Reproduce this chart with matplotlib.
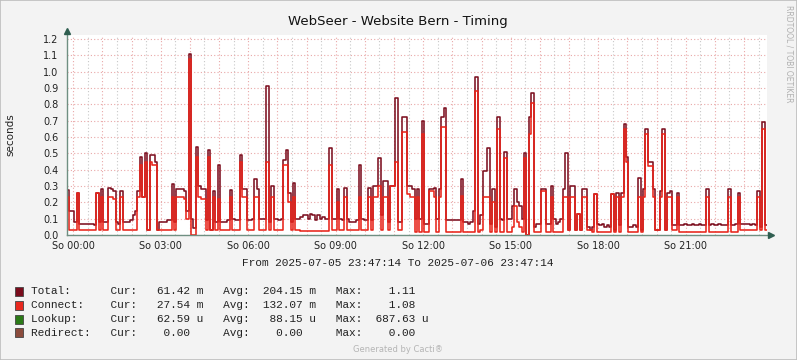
import matplotlib
matplotlib.use("Agg")
import matplotlib.pyplot as plt
import numpy as np
from matplotlib.lines import Line2D
from matplotlib.patches import Rectangle

# ---------------- data (5-minute samples, one row per hour) ----------------
total = [
    .275, .15, .15, .08, .26, .07, .07, .07, .07, .07, .065, .06,
    .26, .08, .28, .08, .08, .29, .28, .27, .08, .07, .27, .08,
    .08, .08, .09, .12, .15, .27, .48, .23, .50, .03, .49, .49,
    .45, .03, .08, .08, .08, .09, .09, .31, .08, .28, .28, .28,
    .27, .15, 1.11, .10, .04, .54, .30, .28, .28, .09, .52, .03,
    .27, .08, .43, .08, .08, .08, .09, .275, .10, .09, .09, .49,
    .28, .28, .09, .09, .10, .34, .28, .10, .10, .10, .91, .08,
    .30, .10, .10, .09, .10, .46, .52, .26, .08, .32, .10, .10,
    .11, .12, .12, .10, .13, .12, .09, .12, .10, .11, .10, .10,
    .53, .10, .10, .28, .10, .09, .29, .10, .08, .08, .08, .09,
    .43, .10, .09, .09, .29, .09, .30, .30, .47, .12, .33, .33,
    .08, .30, .30, .84, .08, .08, .72, .72, .30, .30, .28, .10,
    .28, .10, .70, .07, .07, .28, .28, .29, .10, .28, .72, .78,
    .09, .09, .09, .09, .09, .09, .34, .08, .08, .07, .08, .15,
    .97, .07, .12, .39, .39, .53, .07, .28, .05, .72, .10, .09,
    .51, .10, .10, .18, .28, .20, .18, .10, .50, .00, .72, .87,
    .05, .07, .07, .28, .28, .07, .07, .30, .10, .07, .08, .10,
    .28, .50, .03, .30, .30, .03, .13, .03, .28, .28, .05, .03,
    .05, .25, .07, .06, .07, .05, .06, .05, .25, .03, .26, .06,
    .26, .68, .48, .05, .05, .06, .05, .35, .03, .28, .65, .45,
    .45, .28, .03, .03, .27, .65, .03, .26, .27, .06, .06, .26,
    .06, .06, .065, .06, .06, .065, .06, .06, .065, .06, .06, .28,
    .06, .065, .06, .06, .065, .06, .06, .06, .28, .06, .06, .065,
    .26, .07, .065, .07, .065, .06, .065, .06, .27, .05, .69, .06,
]
connect = [
    .23, .03, .03, .03, .26, .03, .03, .03, .03, .03, .03, .03,
    .26, .03, .23, .03, .03, .23, .23, .22, .03, .03, .23, .03,
    .03, .03, .03, .03, .03, .23, .43, .23, .45, .03, .45, .43,
    .43, .03, .03, .03, .03, .03, .03, .23, .03, .23, .23, .23,
    .22, .10, 1.08, .00, .00, .48, .23, .22, .22, .03, .48, .03,
    .23, .03, .22, .03, .03, .03, .03, .23, .03, .03, .03, .45,
    .23, .23, .03, .03, .03, .23, .23, .03, .03, .03, .45, .03,
    .23, .03, .03, .03, .03, .43, .43, .20, .03, .23, .03, .03,
    .025, .025, .025, .025, .025, .025, .025, .025, .025, .025, .025, .025,
    .43, .03, .03, .20, .03, .03, .23, .03, .03, .03, .03, .03,
    .23, .03, .03, .03, .23, .03, .23, .23, .30, .03, .23, .23,
    .03, .30, .30, .45, .03, .03, .63, .63, .25, .23, .23, .02,
    .23, .02, .62, .02, .02, .27, .27, .23, .02, .23, .66, .66,
    .02, .02, .02, .02, .02, .02, .24, .02, .02, .02, .02, .02,
    .88, .02, .03, .23, .23, .23, .02, .20, .02, .65, .02, .02,
    .47, .02, .02, .05, .18, .08, .05, .02, .47, .00, .62, .81,
    .02, .02, .02, .27, .27, .02, .02, .23, .02, .02, .02, .02,
    .23, .23, .03, .23, .23, .03, .13, .03, .23, .23, .03, .03,
    .02, .25, .02, .02, .02, .02, .02, .02, .25, .02, .23, .02,
    .23, .65, .45, .02, .02, .02, .02, .23, .02, .23, .62, .42,
    .42, .23, .03, .03, .23, .62, .03, .23, .23, .03, .03, .23,
    .02, .02, .02, .02, .02, .02, .02, .02, .02, .02, .02, .23,
    .02, .02, .02, .02, .02, .02, .02, .02, .23, .02, .02, .02,
    .23, .03, .03, .03, .03, .03, .03, .03, .23, .03, .65, .03,
]
step_minutes = 5
first_label_offset_h = 12.77 / 60.0          # 23:47:14 -> 00:00
x_labels = ["So 00:00", "So 03:00", "So 06:00", "So 09:00",
            "So 12:00", "So 15:00", "So 18:00", "So 21:00"]
y_ticks = [round(0.1 * k, 1) for k in range(13)]

legend_names = ["Total:", "Connect:", "Lookup:", "Redirect:"]
legend_colors = ["#7A0C1C", "#E8281E", "#2B7A17", "#8B4B3C"]
legend_cur = [("61.42", "m"), ("27.54", "m"), ("62.59", "u"), ("0.00", " ")]
legend_avg = [("204.15", "m"), ("132.07", "m"), ("88.15", "u"), ("0.00", " ")]
legend_max = [("1.11", " "), ("1.08", " "), ("687.63", "u"), ("0.00", " ")]

TOTAL_COLOR = "#7D1020"
CONNECT_COLOR = "#E8241A"
MONO = ["Liberation Mono", "DejaVu Sans Mono"]

# ---------------- figure ----------------
W, H = 797, 360
fig = plt.figure(figsize=(W / 100, H / 100), dpi=100, facecolor="#F3F3F3")
ax = fig.add_axes([67 / W, 125 / H, 700 / W, 200 / H])
ax.set_facecolor("white")

t = np.arange(len(total)) * step_minutes / 60.0
tx = np.append(t, 24.0)
ax.step(tx, np.append(total, total[-1]), where="post", color=TOTAL_COLOR,
        lw=1.15, zorder=3)
ax.step(tx, np.append(connect, connect[-1]), where="post", color=CONNECT_COLOR,
        lw=1.15, zorder=4)

ax.set_xlim(0, 24)
ax.set_ylim(0, 1.2245)

hour_ticks = [first_label_offset_h + k for k in range(24)]
half_ticks = [first_label_offset_h + k + 0.5 for k in range(24)]
hour_labels = []
for k in range(24):
    hour_labels.append(x_labels[k // 3] if k % 3 == 0 else "")
ax.set_xticks(hour_ticks)
ax.set_xticklabels(hour_labels)
ax.set_xticks(half_ticks, minor=True)
ax.set_yticks(y_ticks)
ax.set_yticklabels([f"{v:.1f}" for v in y_ticks])

ax.grid(True, which="major", color="#E9A8A8", linestyle=(0, (1, 2)), lw=0.8)
ax.grid(True, which="minor", axis="x", color="#C8C8C8", linestyle=(0, (1, 2)), lw=0.8)
ax.set_axisbelow(True)

ax.tick_params(axis="both", which="both", length=0, labelsize=7, colors="#222222", pad=4)
ax.tick_params(axis="y", pad=6)
for s in ax.spines.values():
    s.set_visible(False)

def fx(px):
    return px / W
def fy(py):
    return 1 - py / H

axis_col = "#6F8F82"
fig.add_artist(Line2D([fx(67), fx(67)], [fy(235), fy(31)], color=axis_col, lw=1.0))
fig.add_artist(Line2D([fx(67), fx(770)], [fy(235), fy(235)], color=axis_col, lw=1.0))
fig.add_artist(Line2D([fx(67)], [fy(31)], marker="^", color="#2F5E50", markersize=4, lw=0))
fig.add_artist(Line2D([fx(771)], [fy(235)], marker=">", color="#2F5E50", markersize=4, lw=0))

fig.text(fx(398), fy(22), "WebSeer - Website Bern - Timing", ha="center", va="center",
         fontsize=9.5, color="#111111")
fig.text(fx(10), fy(135), "seconds", rotation=90, ha="center", va="center",
         fontsize=7.5, color="#222222")
fig.text(fx(789), fy(5), "RRDTOOL / TOBI OETIKER", rotation=270, ha="center", va="top",
         fontsize=5.5, color="#B0B0B0")
fig.text(fx(398), fy(263), "From 2025-07-05 23:47:14 To 2025-07-06 23:47:14",
         ha="center", va="center", fontsize=8, family=MONO, color="#222222")

rows_y = [291.5, 305.2, 319.0, 332.7]
for i in range(4):
    line = (f"{legend_names[i]:<12}Cur:{legend_cur[i][0]:>8} {legend_cur[i][1]}   "
            f"Avg:{legend_avg[i][0]:>8} {legend_avg[i][1]}   "
            f"Max:{legend_max[i][0]:>8} {legend_max[i][1]}")
    fig.text(fx(30.5), fy(rows_y[i]), line, ha="left", va="center", fontsize=8,
             family=MONO, color="#222222")
    fig.add_artist(Rectangle((fx(15), fy(rows_y[i] + 4.5)), 8 / W, 9 / H,
                             facecolor=legend_colors[i], edgecolor="#444444", lw=0.6))

fig.text(fx(398), fy(349), "Generated by Cacti®", ha="center", va="center",
         fontsize=6, color="#B5B5B5")

fig.add_artist(Rectangle((0, 0), 1, 1, fill=False, edgecolor="#BDBDBD", lw=1.2,
                         transform=fig.transFigure))

fig.savefig("out.png", dpi=100, facecolor=fig.get_facecolor())
